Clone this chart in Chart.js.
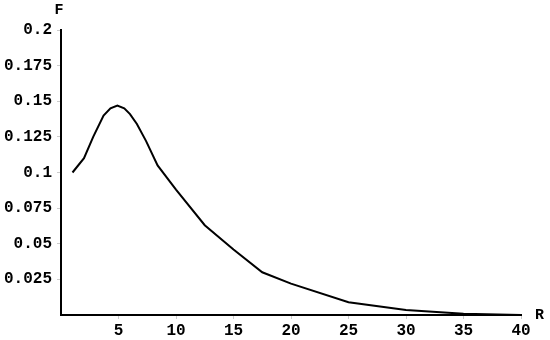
<!DOCTYPE html>
<html>
<head>
<meta charset="utf-8">
<script src="https://cdn.jsdelivr.net/npm/chart.js@4"></script>
<style>
  html, body { margin: 0; padding: 0; background: #fff; }
  #wrap { width: 550px; height: 340px; }
</style>
</head>
<body>
<div id="wrap"><canvas id="lineChart"></canvas></div>
<script>
// values
var rValues = [1, 2, 2.8, 3.7, 4.3, 4.9, 5.5, 6, 6.6, 7.4, 8.4, 10, 12.5, 15, 17.5, 20, 25, 30, 35, 40];
var fValues = [0.100, 0.110, 0.125, 0.140, 0.145, 0.147, 0.145, 0.141, 0.134, 0.122, 0.105, 0.088, 0.063, 0.046, 0.030, 0.022, 0.009, 0.0035, 0.0008, 0.0];
var xTickLabels = [5, 10, 15, 20, 25, 30, 35, 40];
var yTickLabels = ['0.025', '0.05', '0.075', '0.1', '0.125', '0.15', '0.175', '0.2'];

var tickFont = { family: 'Liberation Mono', size: 16, weight: 'bold' };

var points = rValues.map(function (r, i) { return { x: r, y: fValues[i] }; });

// axis names F and R at the ends of the axes
var axisNames = {
  id: 'axisNames',
  afterDraw: function (chart) {
    var ctx = chart.ctx;
    var area = chart.chartArea;
    ctx.save();
    ctx.fillStyle = '#000';
    ctx.font = 'bold 15px "Liberation Mono"';
    ctx.textAlign = 'center';
    ctx.textBaseline = 'middle';
    ctx.fillText('F', area.left - 2, 10);
    ctx.textAlign = 'left';
    ctx.fillText('R', area.right + 14, area.bottom);
    ctx.restore();
  }
};

var ctx = document.getElementById('lineChart').getContext('2d');
new Chart(ctx, {
  type: 'line',
  data: {
    datasets: [{
      data: points,
      borderColor: '#000',
      borderWidth: 2,
      pointRadius: 0,
      tension: 0,
      fill: false
    }]
  },
  options: {
    responsive: true,
    maintainAspectRatio: false,
    animation: false,
    layout: { padding: { top: 30, right: 29, left: 0, bottom: 0 } },
    plugins: { legend: { display: false }, tooltip: { enabled: false } },
    scales: {
      x: {
        type: 'linear',
        min: 0,
        max: 40,
        afterFit: function (scale) { scale.height = 25; },
        afterBuildTicks: function (scale) {
          scale.ticks = xTickLabels.map(function (v) { return { value: v }; });
        },
        ticks: { color: '#000', font: tickFont, padding: 2, maxRotation: 0 },
        grid: { drawOnChartArea: false, tickLength: 4, color: '#ccc' },
        border: { display: true, color: '#000', width: 2 }
      },
      y: {
        min: 0,
        max: 0.2,
        afterFit: function (scale) { scale.width = 61; },
        afterBuildTicks: function (scale) {
          scale.ticks = yTickLabels.map(function (v) { return { value: parseFloat(v) }; });
        },
        ticks: {
          color: '#000',
          font: tickFont,
          padding: 5,
          callback: function (value) {
            var hit = yTickLabels.filter(function (t) { return Math.abs(parseFloat(t) - value) < 1e-9; });
            return hit.length ? hit[0] : '';
          }
        },
        grid: { drawOnChartArea: false, tickLength: 4, color: '#ccc' },
        border: { display: true, color: '#000', width: 2 }
      }
    }
  },
  plugins: [axisNames]
});
</script>
</body>
</html>
